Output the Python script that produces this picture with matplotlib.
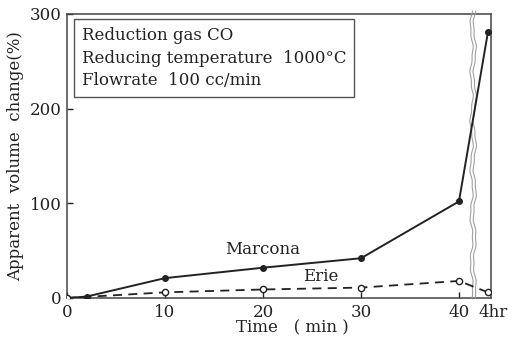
import numpy as np
import matplotlib
matplotlib.use("Agg")
import matplotlib.pyplot as plt

# ---- data ----
marcona_time = [0, 2, 10, 20, 30, 40, "4hr"]
marcona_vals = [0, 1.5, 21, 32, 42, 102, 281]
erie_time = [0, 10, 20, 30, 40, "4hr"]
erie_vals = [0, 6, 9, 11, 18, 6]
x_ticks = [0, 10, 20, 30, 40]
y_ticks = [0, 100, 200, 300]

# ---- layout constants ----
POS_4HR = 42.96     # plotting position of the "4hr" point on the broken axis
BREAK_X = 41.45
XMAX = 43.27

def to_pos(ts):
    return [POS_4HR if t == "4hr" else t for t in ts]

plt.rcParams['font.family'] = ['DejaVu Serif']
ink = '#222222'

fig = plt.figure(figsize=(5.15, 3.4), dpi=100)
ax = fig.add_axes([67/515, 42/340, (491-67)/515, (298-14)/340])

ax.plot(to_pos(marcona_time), marcona_vals, '-', color=ink, lw=1.4,
        marker='o', ms=4, mfc=ink, mec=ink, zorder=3)
ax.plot(to_pos(erie_time), erie_vals, '--', color=ink, lw=1.3,
        dashes=(5, 3.5), marker='o', ms=4.5, mfc='white', mec=ink, mew=1.0, zorder=3)

ax.set_xlim(0, XMAX)
ax.set_ylim(0, 300)
ax.set_xticks(x_ticks)
ax.set_yticks(y_ticks)
ax.tick_params(direction='in', length=4, width=1, colors=ink, labelsize=12,
               labelcolor=ink)
ax.tick_params(axis='x', pad=4)
ax.tick_params(axis='y', pad=4)
for s in ax.spines.values():
    s.set_color('#444444')
    s.set_linewidth(1.1)

# "4hr" label
ax.text(POS_4HR + 0.55, -0.02, "4hr", transform=ax.get_xaxis_transform(),
        ha='center', va='top', fontsize=12, color=ink)

# axis break: white band with two wavy lines
yy = np.linspace(0, 1.01, 400)
wob = 0.13 * np.sin(yy * 2 * np.pi * 6) + 0.05 * np.sin(yy * 2 * np.pi * 17 + 1.0)
trans = ax.get_xaxis_transform()
ax.fill_betweenx(yy, BREAK_X - 0.16 + wob, BREAK_X + 0.16 + wob, color='white',
                 transform=trans, zorder=2.5, clip_on=False, lw=0)
ax.plot(BREAK_X - 0.16 + wob, yy, color='#a0a0a0', lw=0.8, transform=trans,
        zorder=2.6, clip_on=False)
ax.plot(BREAK_X + 0.16 + wob, yy, color='#a0a0a0', lw=0.8, transform=trans,
        zorder=2.6, clip_on=False)

# annotations
ax.text(20, 51, "Marcona", ha='center', va='center', fontsize=12, color=ink)
ax.text(25.9, 23, "Erie", ha='center', va='center', fontsize=12, color=ink)

ax.text(0.035, 0.955,
        "Reduction gas CO\nReducing temperature  1000°C\nFlowrate  100 cc/min",
        transform=ax.transAxes, ha='left', va='top', fontsize=12, color=ink,
        linespacing=1.45,
        bbox=dict(boxstyle='square,pad=0.45', fc='white', ec='#555555', lw=1.0))

ax.set_xlabel("Time   ( min )", fontsize=12, color=ink)
ax.xaxis.set_label_coords((292 - 67) / 424, -0.075)
ax.set_ylabel("Apparent  volume  change(%)", fontsize=12, color=ink, labelpad=4)

fig.savefig("out.png", dpi=100)
